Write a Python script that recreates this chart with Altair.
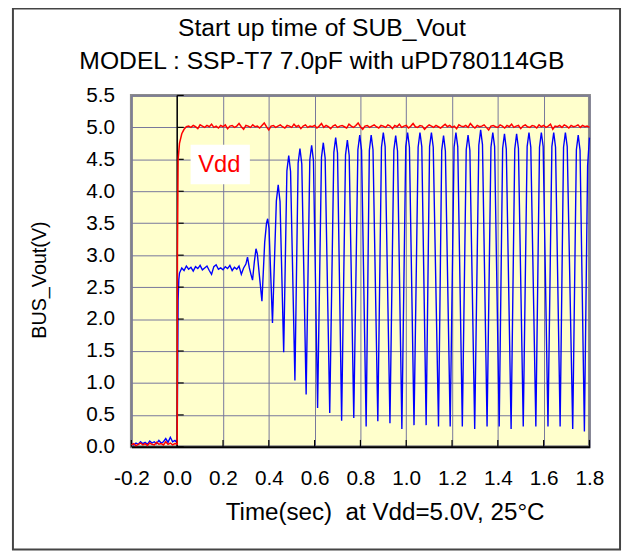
import altair as alt
import pandas as pd

# ---------------- data ----------------
x_ticks = [-0.2, 0.0, 0.2, 0.4, 0.6, 0.8, 1.0, 1.2, 1.4, 1.6, 1.8]
y_ticks = [0.0, 0.5, 1.0, 1.5, 2.0, 2.5, 3.0, 3.5, 4.0, 4.5, 5.0, 5.5]

# before power-on (t = -0.20 .. 0.00, every 0.01 s)
pre_t0, pre_dt = -0.20, 0.01
blue_pre = [0.05, 0.03, 0.06, 0.04, 0.08, 0.05, 0.07, 0.04, 0.09, 0.06, 0.08,
            0.05, 0.10, 0.06, 0.08, 0.13, 0.07, 0.15, 0.08, 0.10, 0.06]
red_pre = [0.03, 0.05, 0.02, 0.04, 0.06, 0.03, 0.05, 0.02, 0.06, 0.04, 0.03,
           0.07, 0.04, 0.05, 0.03, 0.08, 0.04, 0.06, 0.03, 0.05, 0.04]

# Vdd rise and steady level (steady part every 0.01 s from 0.05 s)
red_rise = [(0.001, 3.00), (0.004, 4.50), (0.010, 4.75), (0.020, 4.90),
            (0.030, 4.97), (0.040, 5.01)]
red_t0, red_dt = 0.05, 0.01
red_steady = [
    5.02, 5.00, 5.03, 5.01, 4.98, 5.04, 5.02, 5.00, 5.03, 5.01,
    5.05, 5.00, 5.02, 4.99, 5.03, 5.01, 5.04, 4.98, 5.02, 5.03,
    5.00, 5.02, 5.06, 5.01, 4.97, 5.03, 5.02, 5.00, 5.04, 5.01,
    5.02, 4.99, 5.03, 5.07, 5.01, 4.96, 5.02, 5.03, 5.00, 5.02,
    5.04, 5.01, 4.99, 5.03, 5.02, 5.00, 5.05, 5.01, 5.03, 4.98,
    5.02, 5.04, 5.00, 5.02, 5.01, 5.03, 4.99, 5.02, 5.06, 5.00,
    5.03, 5.01, 4.98, 5.02, 5.04, 5.00, 5.02, 5.03, 5.01, 4.99,
    5.05, 5.02, 5.00, 5.03, 5.07, 5.01, 4.97, 5.02, 5.03, 5.00,
    5.02, 5.04, 5.01, 4.99, 5.03, 5.02, 5.00, 5.04, 5.02, 4.98,
    5.03, 5.01, 5.05, 5.00, 5.02, 5.03, 4.99, 5.02, 5.06, 5.01,
    5.00, 5.03, 5.02, 4.97, 5.01, 5.04, 5.02, 5.00, 5.03, 5.01,
    4.99, 5.02, 5.05, 5.01, 5.03, 5.00, 5.02, 4.98, 5.04, 5.02,
    5.01, 5.03, 5.00, 5.06, 5.02, 4.99, 5.03, 5.01, 5.02, 5.04,
    5.00, 4.96, 5.02, 5.03, 5.01, 5.00, 5.04, 5.02, 4.99, 5.03,
    5.01, 5.05, 5.00, 5.02, 5.03, 4.98, 5.02, 5.04, 5.01, 5.00,
    5.03, 5.02, 4.99, 5.04, 5.01, 5.03, 5.00, 5.02, 5.05, 4.97,
    5.02, 5.01, 5.03, 5.00, 5.04, 5.02, 4.99, 5.03, 5.01, 5.02,
    5.04, 5.00, 5.03, 5.01, 5.02, 5.00]

# SUB_Vout: rise, plateau (every 0.01 s from 0.02 s), start-up wiggles
blue_rise = [(0.002, 1.20), (0.004, 2.30), (0.007, 2.62), (0.010, 2.72)]
plat_t0, plat_dt = 0.02, 0.01
blue_plateau = [2.80, 2.76, 2.83, 2.78, 2.81, 2.75, 2.82, 2.79, 2.84, 2.77,
                2.80, 2.83, 2.76, 2.70, 2.82, 2.85, 2.78, 2.80, 2.77, 2.82,
                2.79, 2.84, 2.76, 2.81, 2.78, 2.83, 2.70, 2.80, 2.86]
blue_start = [(0.307, 2.97), (0.315, 2.80), (0.322, 2.70), (0.329, 2.61),
              (0.337, 2.90), (0.344, 3.10), (0.350, 3.02), (0.357, 2.75),
              (0.370, 2.28), (0.382, 3.20), (0.390, 3.50), (0.395, 3.57),
              (0.401, 3.42), (0.416, 1.94)]
# oscillation: shoulder, peak, shoulder, trough for each cycle
blue_osc = [
    (0.433, 3.85), (0.441, 4.10), (0.449, 3.84), (0.465, 1.48),
    (0.479, 4.32), (0.487, 4.56), (0.495, 4.31), (0.514, 1.04),
    (0.528, 4.44), (0.536, 4.67), (0.544, 4.43), (0.563, 0.82),
    (0.579, 4.49), (0.587, 4.72), (0.595, 4.48), (0.613, 0.61),
    (0.630, 4.53), (0.638, 4.76), (0.646, 4.52), (0.666, 0.53),
    (0.684, 4.61), (0.692, 4.84), (0.700, 4.60), (0.718, 0.41),
    (0.735, 4.57), (0.743, 4.80), (0.751, 4.56), (0.771, 0.45),
    (0.789, 4.65), (0.797, 4.88), (0.805, 4.64), (0.825, 0.32),
    (0.839, 4.64), (0.847, 4.88), (0.855, 4.65), (0.876, 0.40),
    (0.892, 4.69), (0.900, 4.92), (0.908, 4.70), (0.929, 0.37),
    (0.946, 4.64), (0.954, 4.87), (0.962, 4.63), (0.981, 0.28),
    (0.998, 4.70), (1.006, 4.92), (1.014, 4.69), (1.034, 0.34),
    (1.052, 4.69), (1.060, 4.92), (1.068, 4.70), (1.087, 0.34),
    (1.102, 4.70), (1.110, 4.92), (1.118, 4.69), (1.141, 0.32),
    (1.155, 4.64), (1.163, 4.87), (1.171, 4.63), (1.192, 0.32),
    (1.209, 4.69), (1.217, 4.92), (1.225, 4.70), (1.245, 0.32),
    (1.262, 4.65), (1.270, 4.88), (1.278, 4.64), (1.299, 0.28),
    (1.317, 4.72), (1.325, 4.96), (1.333, 4.73), (1.353, 0.32),
    (1.370, 4.69), (1.378, 4.92), (1.386, 4.70), (1.406, 0.32),
    (1.421, 4.67), (1.429, 4.90), (1.437, 4.66), (1.458, 0.28),
    (1.474, 4.66), (1.482, 4.90), (1.490, 4.67), (1.511, 0.32),
    (1.528, 4.70), (1.536, 4.92), (1.544, 4.69), (1.566, 0.32),
    (1.582, 4.69), (1.590, 4.92), (1.598, 4.70), (1.619, 0.32),
    (1.636, 4.70), (1.644, 4.92), (1.652, 4.69), (1.672, 0.32),
    (1.687, 4.69), (1.695, 4.92), (1.703, 4.70), (1.727, 0.28),
    (1.743, 4.65), (1.751, 4.88), (1.759, 4.64), (1.778, 0.24),
    (1.792, 4.40), (1.800, 4.84)]

title_lines = ["Start up time of SUB_Vout", "MODEL : SSP-T7 7.0pF with uPD780114GB"]
x_title = "Time(sec)\u00a0 at Vdd=5.0V, 25°C"
y_title = "BUS_Vout(V)"
label_vdd = "Vdd"

# ---------------- build tables ----------------
pre_t = [round(pre_t0 + i * pre_dt, 3) for i in range(len(blue_pre))]
blue_rows = list(zip(pre_t, blue_pre)) + blue_rise
blue_rows += [(round(plat_t0 + i * plat_dt, 3), v) for i, v in enumerate(blue_plateau)]
blue_rows += blue_start + blue_osc
blue_df = pd.DataFrame(blue_rows, columns=["t", "v"])

red_rows = list(zip(pre_t, red_pre)) + red_rise
red_rows += [(round(red_t0 + i * red_dt, 3), v) for i, v in enumerate(red_steady)]
red_df = pd.DataFrame(red_rows, columns=["t", "v"])

FONT = "Liberation Sans"
GRID = "#76769a"
xs = alt.Scale(domain=[-0.2, 1.8], nice=False, zero=False)
ys = alt.Scale(domain=[0, 5.5], nice=False, zero=True)

one = pd.DataFrame({"a": [0]})

LBL = "replace(format(datum.value, '.1f'), '\u2212', '-')"
xaxis = alt.Axis(values=x_ticks, labelExpr=LBL, labelFontSize=21, labelFont=FONT,
                 labelColor="black", grid=True, gridColor=GRID, gridWidth=1,
                 gridOpacity=1, domain=True, domainColor="black", domainWidth=2,
                 ticks=False, labelPadding=21, title=None, labelFlush=False,
                 labelOverlap=False)
yaxis = alt.Axis(values=y_ticks, labelExpr=LBL, labelFontSize=21, labelFont=FONT,
                 labelColor="black", grid=True, gridColor=GRID, gridWidth=1,
                 gridOpacity=1, domain=False, ticks=False, labelPadding=17,
                 title=None, labelFlush=False, labelOverlap=False)

X = lambda f="t": alt.X(f"{f}:Q", scale=xs, axis=xaxis)
Y = lambda f="v": alt.Y(f"{f}:Q", scale=ys, axis=yaxis)

blue_line = alt.Chart(blue_df).mark_line(color="#0000ff", strokeWidth=1.4).encode(
    x=X(), y=Y())

zero_line = alt.Chart(pd.DataFrame({"t": [0.0]})).mark_rule(
    color="black", strokeWidth=1.5).encode(x=X())

xt_df = pd.DataFrame({"t": x_ticks})
x_tick_marks = alt.Chart(xt_df).mark_rule(color="black", strokeWidth=1.2).encode(
    x=X(), y=alt.value(356), y2=alt.value(349))

yt_df = pd.DataFrame({"v": y_ticks, "t": [0.0] * len(y_ticks)})
y_tick_marks = alt.Chart(yt_df).mark_rule(color="black", strokeWidth=1.2).encode(
    y=Y(), x=X(), x2=alt.value(53))

red_line = alt.Chart(red_df).mark_line(color="#ff0000", strokeWidth=1.5).encode(
    x=X(), y=Y())

vdd_box = alt.Chart(one).mark_rect(fill="white").encode(
    x=alt.value(60), x2=alt.value(120), y=alt.value(50), y2=alt.value(90))
vdd_text = alt.Chart(one).mark_text(text=label_vdd, color="#ff0000", fontSize=24,
                                     font=FONT, align="center", baseline="alphabetic").encode(
    x=alt.value(89), y=alt.value(78))

t1 = alt.Chart(one).mark_text(text=title_lines[0], fontSize=25, font=FONT,
                               align="center", baseline="alphabetic", color="black").encode(
    x=alt.value(193), y=alt.value(-60))
t2 = alt.Chart(one).mark_text(text=title_lines[1], fontSize=25, font=FONT,
                               align="center", baseline="alphabetic", color="black").encode(
    x=alt.value(193), y=alt.value(-27))
xt = alt.Chart(one).mark_text(text=x_title, fontSize=24.5, font=FONT,
                               align="center", baseline="alphabetic", color="black").encode(
    x=alt.value(257), y=alt.value(430))
yt = alt.Chart(one).mark_text(text=y_title, fontSize=20, font=FONT, angle=270,
                               align="center", baseline="alphabetic", color="black").encode(
    x=alt.value(-86), y=alt.value(187))

frame = alt.Chart(one).mark_rect(fill="transparent", stroke="#444444", strokeWidth=2).encode(
    x=alt.value(-120), x2=alt.value(495), y=alt.value(-88), y2=alt.value(460))

chart = alt.layer(
    blue_line, zero_line, x_tick_marks, y_tick_marks, red_line,
    vdd_box, vdd_text, t1, t2, xt, yt, frame
).properties(
    width=464, height=356,
    padding={"left": 125, "top": 85, "right": 34, "bottom": 107},
    autosize=alt.AutoSizeParams(type="none"),
    background="white",
).configure_view(
    fill="#ffffcc", stroke="#8c8c8c", strokeWidth=3
)

chart.save("out.html", embed_options={"renderer": "svg", "actions": False})
